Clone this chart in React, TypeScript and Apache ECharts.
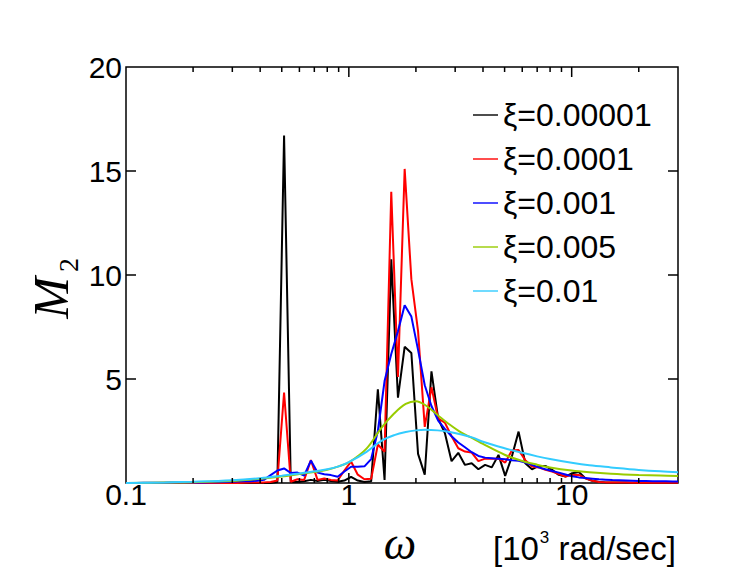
import React, { useEffect, useRef } from "react";
import * as echarts from "echarts";

// Frequency grid (10^3 rad/sec) for the resonant-response curves
const omega = [
  0.1, 0.1041, 0.1116, 0.1196, 0.1282, 0.1374, 0.1472, 0.1578, 0.1691, 0.1812, 0.1942,
  0.2082, 0.2231, 0.239, 0.2562, 0.2746, 0.2943, 0.3154, 0.338, 0.3622, 0.3882,
  0.416, 0.4458, 0.4778, 0.5121, 0.5488, 0.5881, 0.6303, 0.6755, 0.7239, 0.7758,
  0.8314, 0.891, 0.9548, 1.0233, 1.0966, 1.1752, 1.2594, 1.3497, 1.4465, 1.5501,
  1.6613, 1.7803, 1.908, 2.0447, 2.1912, 2.3483, 2.5167, 2.6971, 2.8907, 3.0977,
  3.3204, 3.558, 3.8134, 4.0868, 4.3791, 4.6935, 5.03, 5.3901, 5.777, 6.1915,
  6.6359, 7.1111, 7.6208, 8.1678, 8.7527, 9.3804, 10.053, 10.772, 11.545, 12.373,
  13.259, 14.21, 15.23, 16.323, 17.492, 18.747, 20.091, 21.528, 23.074, 24.728,
  26.494, 28.395, 30,
];

const xi00001 = [
  0, 0, 0, 0, 0, 0, 0, 0, 0, 0, 0,
  0, 0, 0, 0, 0, 0, 0, 0, 0, 0,
  0, 0, 0.05, 16.7, 0.05, 0.05, 0.08, 0.15, 0.1, 0.15,
  0.1, 0.06, 0.12, 0.3, 0.12, 0.05, 0.08, 4.5, 0.15, 10.75,
  4.1, 6.55, 6.25, 1.4, 0.4, 5.37, 3.1, 2.4, 1.05, 1.45,
  0.87, 0.95, 0.66, 0.87, 0.75, 1.35, 0.34, 1.27, 2.47, 0.95,
  0.66, 0.82, 0.82, 0.63, 0.39, 0.31, 0.47, 0.53, 0.22, 0.11,
  0.05, 0.03, 0.02, 0.02, 0.02, 0.01, 0.01, 0.01, 0.01, 0.01,
  0.01, 0.01, 0.01,
];

const xi0001 = [
  0, 0, 0, 0, 0, 0, 0, 0, 0, 0, 0,
  0, 0, 0, 0, 0, 0, 0, 0.01, 0.02, 0.02,
  0.03, 0.05, 0.12, 4.35, 0.06, 0.18, 0.15, 1.1, 0.15, 0.22,
  0.15, 0.12, 0.6, 1.03, 0.4, 0.18, 0.2, 1.85, 1.5, 14.0,
  5.1, 15.1, 9.8, 7.3, 2.7, 4.6, 3.1, 2.9, 2.25, 1.67,
  1.51, 1.46, 1.05, 1.17, 1.17, 1.17, 0.98, 1.56, 1.59, 1.1,
  0.79, 0.75, 0.63, 0.55, 0.43, 0.31, 0.39, 0.39, 0.22, 0.11,
  0.05, 0.03, 0.02, 0.02, 0.02, 0.01, 0.01, 0.01, 0.01, 0.01,
  0.01, 0.01, 0.01,
];

const xi001 = [
  0, 0, 0, 0.01, 0.01, 0.01, 0.01, 0.02, 0.02, 0.02, 0.03,
  0.03, 0.03, 0.04, 0.04, 0.05, 0.06, 0.07, 0.08, 0.09, 0.11,
  0.15, 0.38, 0.6, 0.7, 0.48, 0.5, 0.36, 1.08, 0.5, 0.42,
  0.38, 0.3, 0.55, 0.78, 0.78, 0.8, 1.15, 2.5, 4.9, 6.2,
  7.3, 8.55, 8.0, 6.4, 4.7, 3.7, 3.0, 2.6, 2.25, 1.95,
  1.72, 1.48, 1.3, 1.22, 1.19, 1.16, 1.14, 1.09, 1.07, 0.98,
  0.87, 0.75, 0.66, 0.58, 0.5, 0.41, 0.32, 0.27, 0.24, 0.21,
  0.18, 0.16, 0.14, 0.13, 0.12, 0.11, 0.1, 0.1, 0.09, 0.08,
  0.08, 0.07, 0.07,
];

// Coarser grid for the smooth, heavily damped curves
const omegaSmooth = [
  0.1, 0.15, 0.2, 0.3, 0.4, 0.5, 0.6, 0.7, 0.8, 0.9, 1.0, 1.2, 1.4, 1.6, 1.8, 2.0,
  2.2, 2.5, 2.8, 3.2, 3.6, 4, 5, 6, 7, 8, 10, 12, 15, 20, 25, 30,
];
const xi005 = [
  0.0, 0.02, 0.04, 0.1, 0.2, 0.31, 0.43, 0.53, 0.64, 0.8, 0.99, 1.65, 2.65, 3.35, 3.8, 3.93,
  3.75, 3.27, 2.85, 2.42, 2.15, 1.88, 1.36, 1.06, 0.88, 0.75, 0.6, 0.52, 0.45, 0.39, 0.36, 0.34,
];
const xi01 = [
  0.0, 0.03, 0.06, 0.13, 0.23, 0.35, 0.46, 0.56, 0.66, 0.8, 1.0, 1.5, 2.03, 2.3, 2.45, 2.53,
  2.56, 2.53, 2.46, 2.33, 2.18, 1.98, 1.67, 1.45, 1.28, 1.15, 0.97, 0.85, 0.75, 0.63, 0.56, 0.52,
];

const seriesNames = ["ξ=0.00001", "ξ=0.0001", "ξ=0.001", "ξ=0.005", "ξ=0.01"];
const seriesColors = ["#000000", "#ff0000", "#0000ff", "#99cc00", "#33ccff"];

const xMajorLabels = [0.1, 1, 10];
const xMajorTicks = [1, 10];
const xMinorTicks = [
  0.2, 0.3, 0.4, 0.5, 0.6, 0.7, 0.8, 0.9, 2, 3, 4, 5, 6, 7, 8, 9, 20,
];
const yTickLabels = [5, 10, 15, 20];
const yTicks = [5, 10, 15];

const SANS = '"Liberation Sans", Arial, Helvetica, sans-serif';
const SERIF = '"Liberation Serif", "Times New Roman", serif';

export default function App() {
  const ref = useRef<HTMLDivElement>(null);

  useEffect(() => {
    document.body.style.margin = "0";
    if (!ref.current) return;
    const chart = echarts.init(ref.current, undefined, { renderer: "svg" });

    const pairs = (xs: number[], ys: number[]) => xs.map((x, i) => [x, ys[i]]);
    const dataSets = [
      pairs(omega, xi00001),
      pairs(omega, xi0001),
      pairs(omega, xi001),
      pairs(omegaSmooth, xi005),
      pairs(omegaSmooth, xi01),
    ];

    const titles: any[] = [
      {
        type: "text",
        x: 51,
        y: 298,
        rotation: Math.PI / 2,
        style: {
          text: "M",
          fontFamily: SERIF,
          fontStyle: "italic",
          fontSize: 50,
          fill: "#000",
          align: "center",
          verticalAlign: "middle",
        },
      },
      {
        type: "text",
        x: 68,
        y: 265,
        rotation: Math.PI / 2,
        style: {
          text: "2",
          fontFamily: SERIF,
          fontSize: 28,
          fill: "#000",
          align: "center",
          verticalAlign: "middle",
        },
      },
      {
        type: "text",
        x: 400,
        y: 543,
        style: {
          text: "ω",
          fontFamily: SERIF,
          fontStyle: "italic",
          fontSize: 46,
          fill: "#000",
          align: "center",
          verticalAlign: "middle",
        },
      },
      {
        type: "text",
        x: 493,
        y: 548,
        style: {
          text: "{a|[10}{b|3}{a| rad/sec]}",
          align: "left",
          verticalAlign: "middle",
          rich: {
            a: { fontFamily: SANS, fontSize: 33, lineHeight: 38, fill: "#000", color: "#000" },
            b: {
              fontFamily: SANS,
              fontSize: 17,
              lineHeight: 38,
              verticalAlign: "top",
              fill: "#000",
              color: "#000",
              padding: [0, 0, 0, 1],
            },
          },
        },
      },
    ];

    const option: any = {
      animation: false,
      grid: {
        left: 126,
        top: 67,
        right: 70,
        bottom: 92,
        show: true,
        borderColor: "#000",
        borderWidth: 1.5,
        backgroundColor: "transparent",
        outerBoundsMode: "none",
        containLabel: false,
      },
      legend: {
        orient: "vertical",
        left: 468,
        top: 93,
        icon: "rect",
        itemWidth: 25,
        itemHeight: 1.4,
        itemGap: 10,
        selectedMode: false,
        textStyle: { fontFamily: SANS, fontSize: 32, lineHeight: 34, color: "#000" },
        data: seriesNames,
      },
      xAxis: {
        type: "log",
        logBase: 10,
        min: 0.1,
        max: 30,
        axisLine: { show: false, onZero: false },
        axisTick: { show: false },
        splitLine: { show: false },
        minorTick: { show: false },
        axisLabel: {
          show: true,
          customValues: xMajorLabels,
          margin: -4,
          fontFamily: SANS,
          fontSize: 30,
          lineHeight: 30,
          color: "#000",
          formatter: (v: number) => String(v),
        },
      },
      yAxis: {
        type: "value",
        min: 0,
        max: 20,
        interval: 5,
        axisLine: { show: false, onZero: false },
        axisTick: { show: false },
        splitLine: { show: false },
        axisLabel: {
          show: true,
          customValues: yTickLabels,
          margin: 4,
          fontFamily: SANS,
          fontSize: 30,
          color: "#000",
        },
      },
      series: seriesNames.map((name, i) => ({
        name,
        type: "line",
        data: dataSets[i],
        symbol: "none",
        smooth: i >= 3 ? 0.35 : false,
        clip: true,
        silent: true,
        color: seriesColors[i],
        itemStyle: { color: seriesColors[i] },
        lineStyle: { color: seriesColors[i], width: 2 },
        emphasis: { disabled: true },
      })),
      graphic: titles,
    };

    chart.setOption(option);

    // Inward ticks on all four sides, placed through the chart's own axis scales
    const toPx = (pt: number[]) => chart.convertToPixel({ gridIndex: 0 }, pt) as unknown as number[];
    const c0 = toPx([0.1, 0]);
    const c1 = toPx([30, 20]);
    const left = Number(c0 && c0[0]) || 126;
    const bottom = Number(c0 && c0[1]) || 483;
    const right = Number(c1 && c1[0]) || 678;
    const top = Number(c1 && c1[1]) || 67;
    const ticks: any[] = [];
    const tw = 1.5;
    const addX = (v: number, len: number) => {
      const p = toPx([v, 0]);
      const x = Number(p && p[0]);
      if (!isFinite(x)) return;
      ticks.push({ type: "rect", silent: true, z: 100, shape: { x: x - tw / 2, y: bottom - len, width: tw, height: len }, style: { fill: "#000" } });
      ticks.push({ type: "rect", silent: true, z: 100, shape: { x: x - tw / 2, y: top, width: tw, height: len }, style: { fill: "#000" } });
    };
    xMajorTicks.forEach((v) => addX(v, 10));
    xMinorTicks.forEach((v) => addX(v, 5));
    yTicks.forEach((v) => {
      const p = toPx([0.1, v]);
      const y = Number(p && p[1]);
      if (!isFinite(y)) return;
      ticks.push({ type: "rect", silent: true, z: 100, shape: { x: left, y: y - tw / 2, width: 10, height: tw }, style: { fill: "#000" } });
      ticks.push({ type: "rect", silent: true, z: 100, shape: { x: right - 10, y: y - tw / 2, width: 10, height: tw }, style: { fill: "#000" } });
    });
    chart.setOption({ graphic: [...titles, ...ticks] }, { replaceMerge: ["graphic"] });

    return () => chart.dispose();
  }, []);

  return <div ref={ref} style={{ width: 748, height: 575 }} />;
}
